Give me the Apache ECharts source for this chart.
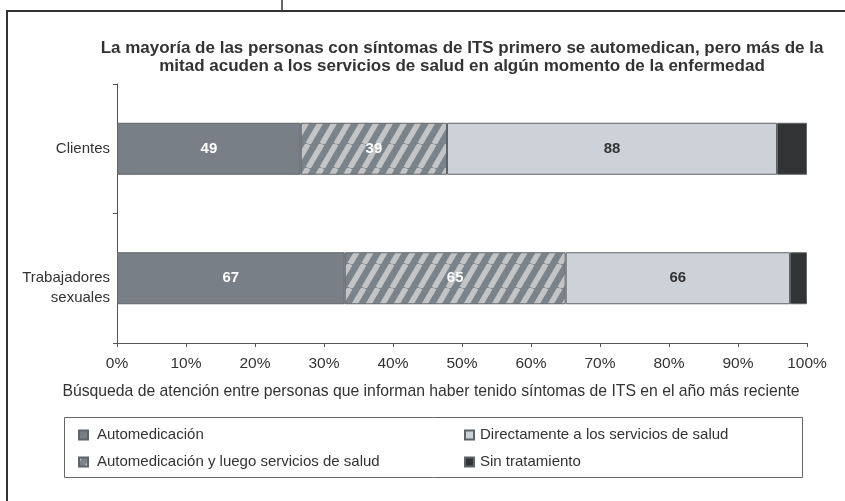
<!DOCTYPE html>
<html>
<head>
<meta charset="utf-8">
<script src="https://cdn.jsdelivr.net/npm/echarts@6/dist/echarts.min.js"></script>
<style>
  html, body { margin: 0; padding: 0; background: #fff; }
  #chart { width: 845px; height: 501px; }
</style>
</head>
<body>
<div id="chart"></div>
<script>
// grupos (eje vertical)
const categories = ['Clientes', 'Trabajadores\nsexuales']

// número de personas por tipo de atención
const automedicacion = [49, 67]
const automedicacionLuego = [39, 65]
const directamente = [88, 66]
const sinTratamiento = [8, 5]

const seriesNames = [
  'Automedicación',
  'Automedicación y luego servicios de salud',
  'Directamente a los servicios de salud',
  'Sin tratamiento'
]

const xTicks = [0, 10, 20, 30, 40, 50, 60, 70, 80, 90, 100]

const titleText = 'La mayoría de las personas con síntomas de ITS primero se automedican, pero más de la\nmitad acuden a los servicios de salud en algún momento de la enfermedad'
const xTitle = 'Búsqueda de atención entre personas que informan haber tenido síntomas de ITS en el año más reciente'

const counts = [automedicacion, automedicacionLuego, directamente, sinTratamiento]
const totals = categories.map((_, i) => counts.reduce((s, arr) => s + arr[i], 0))
const pct = arr => arr.map((v, i) => v / totals[i] * 100)

// rayado diagonal para la segunda serie
const makeHatch = () => {
  const c = document.createElement('canvas')
  c.width = 14
  c.height = 24
  const ctx = c.getContext('2d')
  ctx.fillStyle = '#7b838a'
  ctx.fillRect(0, 0, 14, 24)
  ctx.strokeStyle = '#c3c4c6'
  ctx.lineWidth = 5.5
  ctx.beginPath()
  for (let k = -1; k <= 1; k++) {
    ctx.moveTo(k * 14, 24)
    ctx.lineTo(k * 14 + 14, 0)
  }
  ctx.stroke()
  return c
}

const colors = [
  '#787f86',
  { image: makeHatch(), repeat: 'repeat' },
  '#cdd1d8',
  '#323335'
]
const labelColors = ['#ffffff', '#ffffff', '#333333', null]

const font = '"Liberation Sans", Arial, Helvetica, sans-serif'

const chart = echarts.init(document.getElementById('chart'), null, { renderer: 'canvas' })

const option = {
  animation: false,
  textStyle: { fontFamily: font },
  title: [
    {
      text: titleText,
      left: 457,
      top: 34,
      textAlign: 'center',
      textStyle: {
        fontFamily: font,
        fontSize: 17,
        fontWeight: 'bold',
        color: '#333',
        lineHeight: 18
      }
    },
    {
      text: xTitle,
      left: 426,
      top: 379,
      textAlign: 'center',
      textStyle: {
        fontFamily: font,
        fontSize: 15.75,
        fontWeight: 'normal',
        color: '#333'
      }
    }
  ],
  grid: {
    left: 117,
    right: 38,
    top: 84,
    bottom: 158
  },
  xAxis: {
    type: 'value',
    min: 0,
    max: 100,
    interval: 10,
    axisLine: { show: true, lineStyle: { color: '#555', width: 1 } },
    axisTick: { show: true, length: 4, lineStyle: { color: '#555' } },
    splitLine: { show: false },
    axisLabel: {
      color: '#333',
      fontSize: 15.5,
      margin: 13,
      formatter: v => xTicks.includes(v) ? v + '%' : ''
    }
  },
  yAxis: {
    type: 'category',
    inverse: true,
    data: categories,
    axisLine: { show: true, lineStyle: { color: '#555', width: 1 } },
    axisTick: { show: true, length: 4, lineStyle: { color: '#555' } },
    axisLabel: {
      color: '#333',
      fontSize: 15,
      lineHeight: 20,
      margin: 7,
      align: 'right',
      // la etiqueta de dos líneas arranca a la altura de la barra
      formatter: v => v.includes('\n') ? '\n' + v : v
    }
  },
  legend: [
    {
      data: [seriesNames[0], seriesNames[1]],
      orient: 'vertical',
      left: 73,
      top: 422,
      itemWidth: 9,
      itemHeight: 9,
      itemGap: 11,
      icon: 'rect',
      textStyle: { fontSize: 15, color: '#333', lineHeight: 16, padding: [0, 0, 0, 4] }
    },
    {
      data: [seriesNames[2], seriesNames[3]],
      orient: 'vertical',
      left: 459,
      top: 422,
      itemWidth: 9,
      itemHeight: 9,
      itemGap: 11,
      icon: 'rect',
      textStyle: { fontSize: 15, color: '#333', lineHeight: 16, padding: [0, 0, 0, 1] }
    }
  ],
  graphic: [
    {
      type: 'rect',
      shape: { x: 7, y: 11, width: 900, height: 600 },
      style: { fill: null, stroke: '#333', lineWidth: 2 },
      silent: true
    },
    {
      type: 'line',
      shape: { x1: 282, y1: 0, x2: 282, y2: 11 },
      style: { stroke: '#333', lineWidth: 1.5 },
      silent: true
    },
    {
      type: 'rect',
      shape: { x: 64.5, y: 417.5, width: 738, height: 60 },
      style: { fill: null, stroke: '#666', lineWidth: 1 },
      silent: true
    }
  ],
  series: counts.map((arr, s) => ({
    name: seriesNames[s],
    type: 'bar',
    stack: 'total',
    barWidth: 52,
    data: pct(arr),
    itemStyle: {
      color: colors[s],
      borderColor: '#5f6468',
      borderWidth: 1
    },
    label: {
      show: labelColors[s] !== null,
      position: 'inside',
      color: labelColors[s] || '#333',
      fontSize: 15,
      fontWeight: 'bold',
      formatter: p => String(arr[p.dataIndex])
    }
  }))
}

chart.setOption(option)
</script>
</body>
</html>
